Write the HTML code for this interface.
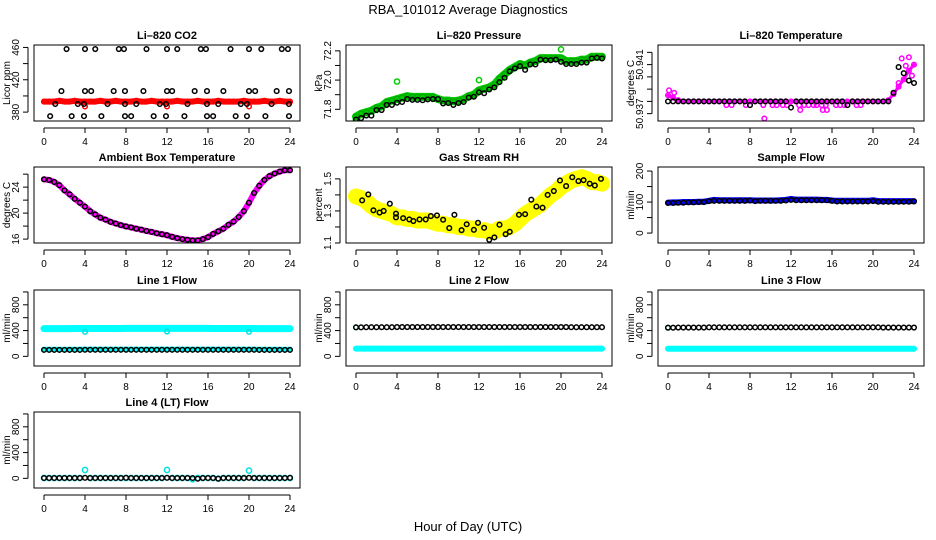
<!DOCTYPE html>
<html><head><meta charset="utf-8"><style>
html,body{margin:0;padding:0;background:#fff;}
svg{display:block;font-family:"Liberation Sans",Arial,sans-serif;}
</style></head><body>
<svg id="chart" width="936" height="540" viewBox="0 0 936 540" xmlns="http://www.w3.org/2000/svg">
<text x="468" y="14" text-anchor="middle" font-size="13">RBA_101012  Average Diagnostics</text>
<text x="468" y="531" text-anchor="middle" font-size="13">Hour of Day (UTC)</text>
</svg>
<script>
// ---- shared time axis (hours) ----
const H = [0,0.5,1,1.5,2,2.5,3,3.5,4,4.5,5,5.5,6,6.5,7,7.5,8,8.5,9,9.5,10,10.5,11,11.5,12,12.5,13,13.5,14,14.5,15,15.5,16,16.5,17,17.5,18,18.5,19,19.5,20,20.5,21,21.5,22,22.5,23,23.5,24];
const xTicks = [0,4,8,12,16,20,24];

// ---- CO2 ----
const co2Red = [393,393,393,394,393,393,394,393,393,393,393,394,393,393,394,393,393,393,394,393,393,394,393,393,393,393,394,393,393,393,394,393,393,393,394,393,393,393,393,394,393,393,393,394,393,393,394,393,393];
const co2RedOutT = [4,12,20];
const co2RedOutV = [387,387,387];
const co2BlackT = [2.2,4,5,7.3,7.8,10,12,13,15.3,15.8,18.2,20,21.2,23.2,23.8, 1.7,4,4.6,6.8,7.9,9.7,12,12.5,14.7,15.9,17.5,20,20.6,22.7,23.9, 1.1,3.3,3.9,6.2,7.9,9,11.3,11.9,14,15.9,17,19.2,19.8,22.2,23.9, 0.6,2.7,3.9,5.6,7.9,8.5,10.7,11.9,13.7,15.9,16.5,18.7,19.8,21.6,23.9];
const co2BlackV = [458,458,458,458,458,458,458,458,458,458,458,458,458,458,458, 406,406,406,406,406,406,406,406,406,406,406,406,406,406,406, 390,390,390,390,390,390,390,390,390,390,390,390,390,390,390, 375,375,375,375,375,375,375,375,375,375,375,375,375,375,375];

// ---- Pressure ----
const presBlack = [71.73,71.74,71.757,71.757,71.795,71.795,71.83,71.83,71.845,71.85,71.87,71.865,71.865,71.862,71.868,71.87,71.87,71.84,71.843,71.83,71.843,71.85,71.88,71.886,71.916,71.91,71.936,71.95,71.986,72.016,72.06,72.08,72.095,72.07,72.107,72.107,72.14,72.136,72.136,72.14,72.125,72.11,72.11,72.11,72.12,72.12,72.148,72.152,72.148];
const presGreen = [71.75,71.77,71.78,71.79,71.81,71.82,71.85,71.86,71.87,71.88,71.89,71.885,71.885,71.885,71.885,71.885,71.87,71.86,71.86,71.855,71.86,71.87,71.89,71.9,71.93,71.94,71.95,71.97,72.01,72.04,72.07,72.09,72.11,72.1,72.12,72.13,72.15,72.15,72.15,72.15,72.15,72.13,72.13,72.13,72.14,72.14,72.16,72.16,72.16];
const presSpikeT = [0,4,12,20];
const presSpikeV = [71.73,71.99,72.0,72.21];

// ---- Li-820 temperature ----
const tempMag = [50.9385,50.9383,50.9381,50.938,50.938,50.938,50.938,50.938,50.938,50.938,50.938,50.938,50.938,50.938,50.938,50.938,50.938,50.938,50.938,50.938,50.938,50.938,50.938,50.938,50.938,50.938,50.938,50.938,50.938,50.938,50.938,50.938,50.938,50.938,50.938,50.938,50.938,50.938,50.938,50.938,50.938,50.938,50.938,50.9381,50.9386,50.9392,50.9398,50.9405,50.941];
const tempMagExtraT = [0.1,0.6,5.7,6.2,7.6,9.3,9.4,10.2,10.6,11.2,11.6,12.8,12.9,13.3,13.7,14.2,14.5,15,15.1,15.4,15.5,16.4,16.8,17.2,18.4,18.8,22.5,22.8,23.2,23.5,23.8];
const tempMagExtraV = [50.9389,50.9387,50.9377,50.9377,50.9377,50.9377,50.9366,50.9377,50.9377,50.9377,50.9377,50.9377,50.9373,50.9377,50.9377,50.9377,50.9377,50.9377,50.9373,50.9377,50.9373,50.9377,50.9377,50.9377,50.9377,50.9377,50.9395,50.9415,50.9409,50.9416,50.9401];
const tempBlack = [50.938,50.938,50.938,50.938,50.938,50.938,50.938,50.938,50.938,50.938,50.938,50.938,50.938,50.938,50.938,50.938,50.9377,50.938,50.938,50.938,50.938,50.938,50.938,50.938,50.9375,50.938,50.938,50.938,50.938,50.938,50.938,50.938,50.938,50.938,50.938,50.9377,50.938,50.938,50.938,50.938,50.938,50.938,50.938,50.938,50.9387,50.9408,50.9403,50.9397,50.9395];

// ---- Ambient box temperature ----
const ambient = [25.2,25.1,24.8,24.3,23.5,22.9,22.2,21.6,21.0,20.3,19.8,19.3,19.0,18.65,18.4,18.15,17.95,17.8,17.6,17.45,17.25,17.1,16.9,16.75,16.6,16.35,16.15,16.0,15.9,15.8,15.8,16.0,16.3,16.8,17.2,17.6,18.2,18.7,19.4,20.3,21.6,23.1,24.2,25.1,25.7,26.1,26.4,26.6,26.6];

// ---- Gas stream RH ----
const rhYellow = [1.39,1.38,1.36,1.33,1.31,1.30,1.29,1.28,1.26,1.26,1.25,1.25,1.24,1.24,1.24,1.23,1.22,1.22,1.21,1.21,1.20,1.20,1.19,1.19,1.18,1.18,1.17,1.17,1.19,1.19,1.20,1.22,1.25,1.28,1.30,1.32,1.34,1.37,1.40,1.42,1.45,1.47,1.49,1.50,1.51,1.50,1.48,1.48,1.47];
const rhBlackT = [0.6,1.2,1.7,2.3,2.7,3.3,3.9,3.9,4.6,5.2,5.6,6.2,6.8,7.3,7.9,8.5,9.1,9.6,10.3,10.8,11.5,11.9,12.5,13,13.5,14,14.6,15,15.9,16.5,17.1,17.6,18.2,18.7,19.3,19.9,20.5,21.1,21.7,22.2,22.8,23.3,23.9];
const rhBlackV = [1.366,1.403,1.304,1.29,1.30,1.345,1.283,1.26,1.255,1.247,1.237,1.247,1.247,1.268,1.272,1.245,1.193,1.276,1.18,1.217,1.182,1.226,1.195,1.12,1.135,1.214,1.155,1.17,1.276,1.28,1.37,1.327,1.32,1.40,1.424,1.49,1.455,1.51,1.486,1.492,1.47,1.459,1.50];

// ---- Sample flow ----
const sampleBlue = [98,99,99,100,100,100,101,101,104,107,106,106,106,106,106,106,106,105,105,105,105,105,106,107,110,108,108,108,108,108,107,107,105,104,104,104,104,104,104,104,106,103,103,103,103,103,103,103,103];
const sampleBlack = [97,97,98,98,99,99,100,100,103,104,104,104,104,104,104,104,105,103,104,104,104,104,104,105,107,106,106,106,106,106,106,106,104,102,102,102,102,102,102,102,103,101,101,101,101,101,101,101,102];

// ---- Line flows ----
const l1CyanHi = [430,430,430,430,430,430,432,432,432,432,432,432,432,432,432,432,435,435,435,435,435,435,435,435,435,435,435,435,435,435,435,435,435,432,432,432,432,432,432,432,432,432,430,430,430,430,430,430,430];
const l1CyanOutT = [4,12,20];
const l1CyanOutV = [380,385,380];
const l1CyanLo = [110,110,110,110,110,110,110,110,112,112,112,112,112,112,112,112,112,112,112,112,112,112,112,112,112,112,112,112,112,112,112,112,112,112,112,112,112,112,112,112,112,112,110,110,110,110,110,110,110];
const l1Black = [100,100,100,100,100,100,100,100,102,102,102,102,102,102,102,102,102,102,102,102,102,102,102,102,102,102,102,102,102,102,102,102,102,102,102,102,102,102,102,102,102,102,100,100,100,100,100,100,100];
const l2Black = [450,450,452,452,452,452,452,452,455,455,455,455,455,455,455,455,455,455,455,455,455,455,455,455,455,455,455,455,455,455,455,455,455,455,455,455,455,455,455,455,455,455,452,452,452,452,452,452,452];
const l2Cyan = [120,120,120,120,120,120,120,120,120,120,120,120,120,120,120,120,120,120,120,120,120,120,120,120,120,120,120,120,120,120,120,120,120,120,120,120,120,120,120,120,120,120,120,120,120,120,120,120,120];
const l2CyanStartT = [0];
const l2CyanStartV = [450];
const l3Black = [445,445,447,447,447,447,447,447,450,450,450,450,450,450,450,450,450,450,450,450,450,450,450,450,450,450,450,450,450,450,450,450,450,450,450,450,450,450,450,450,450,450,447,447,447,447,447,447,447];
const l3Cyan = [118,118,118,118,118,118,118,118,118,118,118,118,118,118,118,118,118,118,118,118,118,118,118,118,118,118,118,118,118,118,118,118,118,118,118,118,118,118,118,118,118,118,118,118,118,118,118,118,118];
const l3CyanStartT = [0];
const l3CyanStartV = [445];
const l4Black = [5,5,5,5,5,5,5,5,8,5,5,5,5,5,5,5,8,5,5,5,5,5,5,5,8,5,5,5,5,5,-5,5,5,5,-5,5,5,5,5,5,8,5,5,5,5,5,5,5,8];
const l4Cyan = [5,5,5,5,5,5,5,5,130,5,5,5,5,5,5,5,5,5,5,5,5,5,5,5,130,5,5,5,5,-15,5,5,5,5,-5,5,5,5,5,5,120,5,5,5,5,5,5,5,5];

const NS = "http://www.w3.org/2000/svg";
const svg = document.getElementById('chart');
const colL = [34,346,658], rowT = [45,167,290,412], PW = 266, PH = 76;

function mk(tag, attrs, parent){
  const e = document.createElementNS(NS, tag);
  for (const k in attrs) e.setAttribute(k, attrs[k]);
  (parent||svg).appendChild(e);
  return e;
}

function panel(name, col, row, title, ylab, ymin, ymax, ticks, labels){
  const L = colL[col], T = rowT[row];
  const g = mk('g', {});
  
  
  const sx = v => L + 10 + v / 24 * (PW - 20);
  const sy = v => T + PH - (v - ymin) / (ymax - ymin) * PH;
  const tt = mk('text', {x: L + PW/2, y: T - 6, 'text-anchor':'middle', 'font-size':11, 'font-weight':'bold'}, g);
  tt.textContent = title;
  
  
  const xa = mk('g', {}, g);
  
  
  const ay = T + PH + 7;
  mk('line', {x1: sx(0), x2: sx(24), y1: ay, y2: ay, stroke:'#000'}, xa);
  xTicks.forEach(v => {
    mk('line', {x1: sx(v), x2: sx(v), y1: ay, y2: ay + 5, stroke:'#000'}, xa);
    const t = mk('text', {x: sx(v), y: ay + 17, 'text-anchor':'middle', 'font-size':10}, xa);
    t.textContent = v;
  });
  const ya = mk('g', {}, g);
  
  
  const ax = L - 6;
  mk('line', {x1: ax, x2: ax, y1: sy(ticks[0]), y2: sy(ticks[ticks.length-1]), stroke:'#000'}, ya);
  ticks.forEach(v => {
    mk('line', {x1: ax - 5, x2: ax, y1: sy(v), y2: sy(v), stroke:'#000'}, ya);
  });
  labels.forEach(lb => {
    const t = mk('text', {x: 0, y: 0, 'text-anchor':'middle', 'font-size':10,
      transform: 'translate(' + (ax - 9) + ',' + sy(lb[0]) + ') rotate(-90)'}, ya);
    t.textContent = lb[1];
  });
  const yt = mk('text', {x: 0, y: 0, 'text-anchor':'middle', 'font-size':10,
    transform: 'translate(' + (L - 24) + ',' + (T + PH/2) + ') rotate(-90)'}, g);
  yt.textContent = ylab;
  
  
  const cid = 'clip-' + name;
  const cp = mk('clipPath', {id: cid}, g);
  mk('rect', {x: L, y: T, width: PW, height: PH}, cp);
  const plot = mk('g', {'clip-path': 'url(#' + cid + ')'}, g);
  mk('rect', {x: L, y: T, width: PW, height: PH, fill:'none', stroke:'#000'}, g);
  return {g: plot, sx, sy};
}

function band(p, ts, vs, color, w, name){
  const pl = mk('polyline', {points: ts.map((t,i) => p.sx(t) + ',' + p.sy(vs[i])).join(' '),
    fill:'none', stroke: color, 'stroke-width': w, 'stroke-linejoin':'round', 'stroke-linecap':'round'}, p.g);
  
  
}
function pts(p, ts, vs, color, name, r){
  const g = mk('g', {}, p.g);
  
  
  ts.forEach((t,i) => {
    const c = mk('circle', {cx: p.sx(t), cy: p.sy(vs[i]), r: r || 2.3, fill:'none', stroke: color, 'stroke-width': 1.5}, g);
    
    
  });
}

// CO2
let p = panel('co2', 0, 0, 'Li\u2013820 CO2', 'Licor ppm', 369, 463, [380,400,420,440,460], [[380,'380'],[420,'420'],[460,'460']]);
band(p, H, co2Red, '#ff0000', 6, 'co2-red-series');
pts(p, H, co2Red, '#ff0000', 'co2-red-points');
pts(p, co2RedOutT, co2RedOutV, '#ff0000', 'co2-red-outliers');
pts(p, co2BlackT, co2BlackV, '#000', 'co2-black-points');

// Pressure
p = panel('pressure', 1, 0, 'Li\u2013820 Pressure', 'kPa', 71.72, 72.24, [71.8,71.9,72.0,72.1,72.2], [[71.8,'71.8'],[72.0,'72.0'],[72.2,'72.2']]);
band(p, H, presGreen, '#00cc00', 8, 'pressure-green-series');
pts(p, H, presGreen, '#00aa00', 'pressure-green-points', 2.6);
pts(p, presSpikeT, presSpikeV, '#00cc00', 'pressure-green-spikes', 2.6);
pts(p, H, presBlack, '#000', 'pressure-black-points');

// Li-820 Temperature
p = panel('li820-temp', 2, 0, 'Li\u2013820 Temperature', 'degrees C', 50.9364, 50.9426, [50.937,50.938,50.939,50.940,50.941,50.942], [[50.937,'50.937'],[50.941,'50.941']]);
band(p, H, tempMag, '#ff00ff', 3, 'temp-magenta-series');
pts(p, H, tempMag, '#ff00ff', 'temp-magenta-points');
pts(p, tempMagExtraT, tempMagExtraV, '#ff00ff', 'temp-magenta-extra-points');
pts(p, H, tempBlack, '#000', 'temp-black-points');

// Ambient
p = panel('ambient', 0, 1, 'Ambient Box Temperature', 'degrees C', 15.4, 27.1, [16,18,20,22,24,26], [[16,'16'],[20,'20'],[24,'24']]);
band(p, H, ambient, '#ff00ff', 6, 'ambient-magenta-series');
pts(p, H, ambient, '#000', 'ambient-black-points');

// RH
p = panel('rh', 1, 1, 'Gas Stream RH', 'percent', 1.1, 1.574, [1.1,1.2,1.3,1.4,1.5], [[1.1,'1.1'],[1.3,'1.3'],[1.5,'1.5']]);
band(p, H, rhYellow, '#ffff00', 16, 'rh-yellow-series');
pts(p, rhBlackT, rhBlackV, '#000', 'rh-black-points');

// Sample flow
p = panel('sample-flow', 2, 1, 'Sample Flow', 'ml/min', -32, 213, [0,50,100,150,200], [[0,'0'],[100,'100'],[200,'200']]);
band(p, H, sampleBlue, '#0000ff', 6, 'sample-blue-series');
pts(p, H, sampleBlack, '#000', 'sample-black-points');

const flowTicks = [0,200,400,600,800,1000];
const flowLabels = [[0,'0'],[400,'400'],[800,'800']];
// Line 1
p = panel('line1-flow', 0, 2, 'Line 1 Flow', 'ml/min', -150, 1030, flowTicks, flowLabels);
band(p, H, l1CyanHi, '#00ffff', 7, 'line1-cyan-high-series');
pts(p, l1CyanOutT, l1CyanOutV, '#00e0e0', 'line1-cyan-outliers');
band(p, H, l1CyanLo, '#00ffff', 5, 'line1-cyan-low-series');
pts(p, H, l1Black, '#000', 'line1-black-points');
// Line 2
p = panel('line2-flow', 1, 2, 'Line 2 Flow', 'ml/min', -150, 1030, flowTicks, flowLabels);
band(p, H, l2Cyan, '#00ffff', 6, 'line2-cyan-series');
pts(p, l2CyanStartT, l2CyanStartV, '#00e0e0', 'line2-cyan-start');
pts(p, H, l2Black, '#000', 'line2-black-points');
// Line 3
p = panel('line3-flow', 2, 2, 'Line 3 Flow', 'ml/min', -150, 1030, flowTicks, flowLabels);
band(p, H, l3Cyan, '#00ffff', 6, 'line3-cyan-series');
pts(p, l3CyanStartT, l3CyanStartV, '#00e0e0', 'line3-cyan-start');
pts(p, H, l3Black, '#000', 'line3-black-points');
// Line 4
p = panel('line4-flow', 0, 3, 'Line 4 (LT) Flow', 'ml/min', -150, 1030, flowTicks, flowLabels);
pts(p, H, l4Cyan, '#00e0e0', 'line4-cyan-points', 2.6);
pts(p, H, l4Black, '#000', 'line4-black-points');
</script>
</body></html>
